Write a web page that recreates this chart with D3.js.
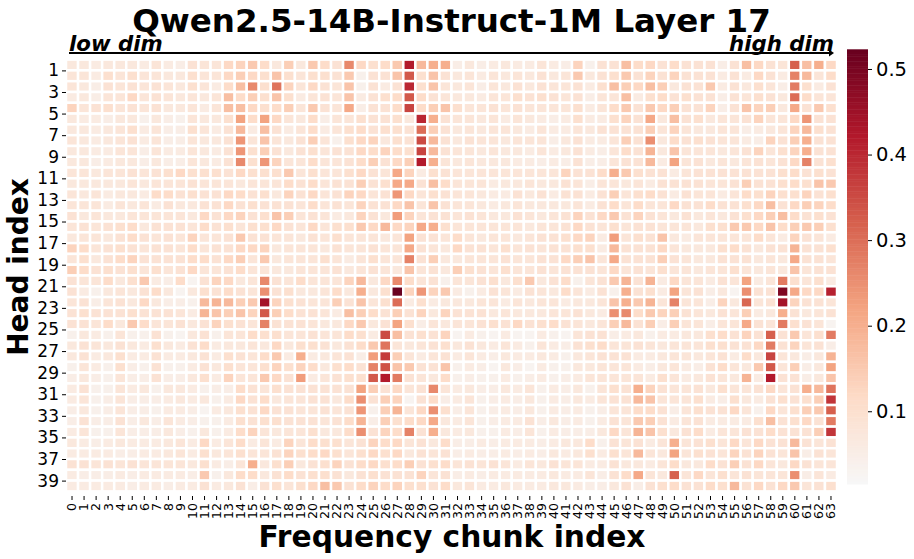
<!DOCTYPE html>
<html>
<head>
<meta charset="utf-8">
<script src="https://cdn.jsdelivr.net/npm/d3@7"></script>
<style>
  html, body { margin: 0; padding: 0; background: #fff; }
  text { font-family: "DejaVu Sans", sans-serif; fill: #000; }
</style>
</head>
<body>
<svg id="chart" width="914" height="559"></svg>
<script>
const chunks = d3.range(64);
const heads = d3.range(40);
const headTicks = d3.range(1, 40, 2);
const barTicks = [0.1, 0.2, 0.3, 0.4, 0.5];
const colorStops = ['#f7f7f7', '#fddbc7', '#f4a582', '#d6604d', '#b2182b', '#67001f'];
const valueRange = [0.015, 0.523];

// one line per head, in hundredths
const headValues = [
  [7,7,6,7,7,7,6,8,6,5,9,8,8,12,13,15,11,7,14,7,15, 11,9,26,12,10,11,15,42,18,20,20,5,7,5,6,7,6,6,8,6,5,13, 4,9,9,17,11,12,9,11,9,9,9,5,9,17,12,9,8,32,17,20,12],
  [8,8,6,10,8,10,8,8,7,7,10,8,8,12,14,12,10,16,10,8,10, 10,9,15,4,9,9,16,33,10,16,9,7,8,6,8,7,8,7,9,7,8,15, 7,9,10,15,9,13,9,13,9,9,9,6,9,6,12,9,6,27,18,8,11],
  [8,7,5,9,8,9,8,9,8,7,10,8,6,11,17,26,10,29,13,8,12, 9,8,16,4,9,6,9,40,10,16,8,7,8,5,8,7,9,7,9,8,8,9, 6,10,17,14,12,17,14,7,9,9,15,6,9,7,10,8,5,28,10,6,9],
  [6,7,5,8,8,12,8,9,8,7,8,7,8,17,11,14,10,16,10,6,8, 9,8,16,6,9,10,11,33,11,9,8,7,7,6,8,8,10,9,10,9,8,9, 5,8,8,17,6,10,11,9,10,9,9,5,9,8,10,9,7,30,11,8,8],
  [13,8,9,10,8,9,8,9,7,7,8,6,8,17,17,12,10,11,14,8,15, 9,8,21,5,9,9,11,36,11,14,16,10,8,8,9,8,9,8,8,8,8,10, 6,8,11,15,9,15,12,14,9,9,13,5,9,16,13,14,7,21,9,15,10],
  [7,6,6,5,7,7,4,7,5,4,8,7,7,10,22,11,22,12,8,7,11, 5,8,8,10,9,9,10,7,40,20,9,8,8,7,8,6,8,7,6,5,6,10, 6,6,10,13,9,21,7,17,9,10,7,8,8,9,13,8,8,12,24,9,9],
  [7,7,6,7,8,10,6,8,5,5,10,8,6,9,18,6,17,9,6,8,11, 6,8,10,11,9,10,10,9,30,14,9,7,8,7,8,8,7,6,8,6,6,8, 7,9,9,9,9,14,8,13,8,7,7,8,8,5,6,7,8,13,18,10,9],
  [8,7,6,7,8,9,6,8,5,5,8,7,7,9,24,8,16,8,7,9,14, 8,4,10,12,13,7,10,9,35,18,9,7,9,8,8,7,8,8,8,5,7,9, 6,6,8,14,9,25,7,11,9,10,9,8,8,6,5,13,9,14,20,9,9],
  [7,7,6,6,8,8,5,8,6,6,8,7,6,9,24,10,14,9,7,9,10, 8,9,9,12,11,13,11,10,36,18,9,8,8,7,8,7,7,6,8,6,7,9, 6,5,8,11,9,19,7,16,8,8,8,7,8,9,13,8,10,13,20,9,9],
  [7,7,5,6,7,7,5,7,5,5,8,7,6,9,26,10,24,13,8,8,11, 8,8,9,11,14,9,12,14,42,20,8,7,8,7,7,7,6,6,5,6,5,9, 5,5,8,9,9,18,6,22,8,9,7,8,7,8,9,8,9,12,27,9,10],
  [8,8,7,8,8,9,8,9,10,12,10,10,10,9,12,10,10,10,15,8,10, 8,8,10,12,9,8,21,13,6,10,9,8,8,8,8,8,8,8,8,8,13,9, 9,11,20,15,10,9,9,6,8,9,9,9,9,9,9,9,10,11,9,10,9],
  [7,7,7,7,7,8,7,8,8,8,9,8,8,8,7,8,8,8,11,9,11, 8,9,9,14,9,10,21,21,9,17,11,8,8,8,6,7,7,8,7,7,9,8, 5,8,8,7,8,6,9,9,9,9,8,8,9,14,9,9,10,11,10,16,15],
  [8,7,8,6,7,7,6,11,11,9,10,9,9,12,11,9,10,7,13,9,12, 8,9,13,12,8,9,24,12,8,10,9,8,8,7,6,6,9,7,9,6,9,9, 6,9,14,8,10,11,9,6,9,8,8,6,8,11,10,13,10,10,13,9,10],
  [8,8,8,6,8,7,8,6,9,7,7,9,9,12,9,10,9,9,9,8,11, 8,9,8,13,9,9,12,16,8,16,9,8,8,7,6,7,8,7,7,7,7,8, 6,9,11,8,11,8,8,12,9,9,11,9,9,10,12,17,9,12,14,13,11],
  [9,7,8,7,7,8,8,8,8,8,7,12,9,12,13,9,10,16,14,8,9, 8,6,7,13,9,7,23,13,8,9,9,8,9,8,7,7,9,8,7,8,9,13, 9,12,15,9,13,9,8,7,9,7,8,7,9,10,12,14,17,11,9,10,9],
  [8,9,8,9,10,11,7,9,9,9,8,11,9,10,8,10,10,12,9,8,12, 8,10,10,15,12,18,12,13,21,20,10,8,8,8,8,8,8,7,8,8,9,12, 9,8,10,8,9,9,8,8,8,7,10,10,15,15,12,16,11,14,15,14,10],
  [7,8,8,7,9,11,9,8,9,8,13,8,8,9,15,9,9,8,8,7,9, 8,10,8,8,8,7,8,22,9,9,8,11,8,7,8,8,7,8,9,9,10,12, 13,6,23,8,10,9,16,7,6,8,8,8,8,8,11,8,6,13,9,8,6],
  [13,11,8,9,10,9,8,9,9,8,11,8,9,9,12,12,13,7,8,8,8, 7,9,8,8,9,8,8,21,9,8,7,12,9,9,8,10,8,9,8,9,9,10, 10,6,18,9,9,9,12,8,7,7,7,10,11,9,7,9,9,19,9,9,10],
  [8,10,7,9,11,13,9,9,9,9,11,11,9,12,14,8,15,7,8,8,8, 10,8,6,8,10,8,8,27,9,14,7,7,8,8,8,9,8,8,9,9,12,14, 16,8,21,9,9,9,14,9,8,7,7,9,9,9,7,8,7,21,9,9,8],
  [14,11,9,10,9,10,8,10,8,9,12,8,8,9,11,8,8,7,7,8,8, 8,9,7,8,9,8,7,16,8,9,7,14,10,9,8,10,8,8,9,8,9,9, 9,8,12,8,9,8,10,8,8,7,8,8,10,8,7,8,7,16,8,9,9],
  [9,8,8,11,7,10,15,6,5,11,3,9,13,12,7,8,26,9,8,11,8, 8,8,13,18,7,12,26,11,8,9,4,8,8,9,10,7,10,15,7,9,11,4, 8,9,15,19,9,19,6,12,8,8,6,9,8,22,6,8,28,10,8,10,6],
  [9,6,4,7,8,7,9,11,7,3,7,10,9,11,9,8,25,9,10,7,7, 8,11,7,20,7,10,52,13,24,13,15,6,4,6,9,8,6,9,8,7,11,8, 6,9,4,20,9,10,6,22,8,9,5,7,3,25,9,9,49,21,12,12,41],
  [8,9,5,8,9,7,12,7,5,5,4,18,19,18,14,15,44,13,10,9,8, 8,14,9,16,8,10,30,6,10,6,7,7,7,8,8,6,8,7,8,8,6,7, 7,8,16,20,15,19,8,27,8,8,5,13,7,31,8,9,44,13,9,9,8],
  [9,10,9,9,9,10,9,9,9,8,6,19,16,14,16,13,33,14,11,9,9, 8,6,17,14,11,9,14,9,13,7,13,9,9,9,7,8,7,7,7,8,8,9, 7,6,25,26,11,15,13,14,9,8,7,9,8,14,6,7,20,9,7,8,9],
  [9,9,8,11,7,15,11,8,8,9,7,9,13,10,9,8,27,9,9,9,8, 7,7,12,15,7,9,22,10,5,8,7,8,8,9,10,9,12,9,10,11,9,8, 7,8,14,18,9,14,5,14,8,8,5,8,8,21,9,8,28,10,9,8,3],
  [4,7,6,4,8,4,4,9,4,3,7,9,4,8,8,11,10,10,8,8,9, 8,8,11,10,6,35,17,9,10,9,13,3,6,4,3,6,3,3,6,4,3,8, 9,9,5,6,7,4,6,6,7,7,10,11,9,13,9,32,9,15,8,10,28],
  [7,9,8,7,9,7,6,10,7,6,9,11,6,7,7,8,7,12,7,10,10, 9,7,9,11,15,29,8,7,8,9,10,7,9,7,6,8,6,4,8,6,5,9, 10,11,8,8,9,8,7,8,8,8,10,10,9,9,12,28,9,13,8,9,5],
  [7,9,6,7,10,6,6,9,6,6,7,9,6,10,9,8,11,15,6,20,6, 7,8,9,5,23,37,14,8,6,8,9,6,8,6,5,7,6,6,7,6,4,7, 8,9,9,9,6,6,7,8,8,7,8,9,6,11,7,36,8,7,5,7,19],
  [4,8,6,4,10,5,4,9,4,4,6,9,7,10,8,8,10,13,10,13,11, 7,10,11,9,27,34,16,15,9,9,16,4,6,5,3,7,5,3,6,4,4,7, 7,8,8,8,6,5,7,8,6,5,9,11,8,7,15,33,8,14,5,7,22],
  [5,7,5,4,8,5,5,9,5,5,7,10,6,13,8,8,15,12,9,23,6, 8,9,10,10,33,42,28,9,8,7,11,4,5,4,4,6,4,5,6,4,5,6, 8,8,8,8,8,6,10,8,6,7,9,8,7,19,6,42,9,9,5,7,16],
  [6,9,4,4,8,6,7,4,7,7,6,4,5,5,11,9,8,10,9,9,9, 9,9,9,22,14,9,12,8,9,26,8,6,7,5,5,7,6,8,4,6,5,7, 4,8,10,9,20,13,9,8,8,9,7,10,8,8,9,12,8,9,20,18,29],
  [6,8,4,5,8,5,5,5,6,7,6,7,4,6,12,9,11,7,8,8,9, 9,7,11,25,9,14,13,3,9,11,5,6,8,4,5,6,5,7,4,6,5,7, 6,8,9,9,18,16,8,8,8,10,6,5,10,7,6,9,10,9,10,14,38],
  [5,7,4,5,8,5,5,4,6,6,5,3,6,7,10,9,12,9,9,8,8, 9,8,9,24,4,14,19,8,12,25,10,5,8,4,5,6,5,7,4,6,5,6, 4,5,8,8,11,11,9,5,8,10,9,9,12,8,4,12,8,10,14,15,32],
  [5,9,5,5,9,5,7,5,8,6,5,4,4,6,10,9,10,10,9,9,9, 8,9,11,19,5,14,10,11,12,21,7,6,8,4,5,6,6,9,5,7,5,6, 4,6,9,8,15,14,9,6,8,9,6,6,6,6,10,17,9,10,12,9,28],
  [6,8,4,4,8,5,5,5,7,5,4,7,4,6,11,13,8,7,8,8,10, 7,7,11,25,9,13,11,27,9,20,7,6,7,4,4,6,5,8,4,6,5,5, 5,7,12,8,19,16,10,7,9,11,6,8,8,9,9,11,9,9,9,14,38],
  [7,6,5,6,7,6,6,6,7,8,6,12,6,8,11,6,8,6,13,8,11, 10,10,8,9,13,11,12,8,9,7,11,5,5,6,5,6,6,6,5,6,7,7, 11,4,9,8,9,6,8,20,8,9,10,8,12,8,12,9,9,18,9,8,9],
  [6,6,6,6,5,5,6,6,7,8,6,10,7,8,10,8,8,9,13,10,11, 12,10,8,10,12,10,12,7,9,8,9,5,6,5,5,6,5,6,5,7,6,7, 10,6,10,8,18,8,7,22,8,10,9,8,13,9,13,9,8,16,5,9,8],
  [9,9,8,9,8,9,8,8,8,8,7,10,6,5,8,20,7,10,14,7,9, 10,13,9,11,12,10,11,14,9,10,11,8,9,8,9,8,6,8,7,9,8,8, 6,6,9,7,7,6,8,11,7,7,11,9,14,9,12,8,7,12,9,8,8],
  [6,5,5,5,6,5,6,6,6,6,5,15,4,7,11,11,7,9,11,9,10, 10,9,7,9,10,9,9,9,13,8,9,5,6,5,6,6,6,6,6,7,6,6, 8,5,9,11,21,8,7,32,8,12,8,10,8,9,8,8,8,25,5,8,6],
  [6,6,6,6,6,5,6,6,5,6,6,9,6,7,9,5,9,10,8,10,12, 17,15,9,11,13,11,13,10,10,9,11,7,8,6,6,7,6,6,6,7,7,6, 5,5,7,9,5,9,10,11,9,9,11,10,18,9,12,9,12,15,8,9,10]
];

const svg = d3.select('#chart');

const plot = { left: 66, right: 837, top: 59.6, bottom: 491.4 };
const bar = { left: 847, right: 868, top: 49.3, bottom: 484 };

const x = d3.scaleBand().domain(chunks).range([plot.left, plot.right]);
const y = d3.scaleLinear().domain([0, heads.length]).range([plot.top, plot.bottom]);

const color = d3.scaleLinear()
  .domain(colorStops.map((c, i) => valueRange[0] + (valueRange[1] - valueRange[0]) * i / (colorStops.length - 1)))
  .range(colorStops);

// cells, white outline gives the gaps
svg.append('g')
  .selectAll('g')
  .data(headValues)
  .join('g')
  .selectAll('rect')
  .data((row, h) => row.map((v, c) => ({ h, c, v: v / 100 })))
  .join('rect')
  .attr('x', d => x(d.c))
  .attr('y', d => y(d.h))
  .attr('width', x.bandwidth())
  .attr('height', y(1) - y(0))
  .attr('fill', d => color(d.v))
  .attr('stroke', '#fff')
  .attr('stroke-width', 2.5);

// axes
const xAxis = svg.append('g')
  .attr('transform', `translate(0,496)`)
  .call(d3.axisBottom(x).tickSize(4).tickPadding(3));
xAxis.select('.domain').remove();
xAxis.selectAll('text')
  .attr('font-size', 12.5)
  .attr('text-anchor', 'end')
  .attr('transform', 'rotate(-90)')
  .attr('x', -7)
  .attr('y', 0)
  .attr('dy', '0.35em');

const yAxis = svg.append('g')
  .attr('transform', `translate(${plot.left},0)`)
  .call(d3.axisLeft(y).tickValues(headTicks).tickFormat(d3.format('d')).tickSize(4).tickPadding(3));
yAxis.select('.domain').remove();
yAxis.selectAll('text').attr('font-size', 17);

// colorbar
const barScale = d3.scaleLinear().domain(valueRange).range([bar.bottom, bar.top]);
const barSteps = d3.range(valueRange[0], valueRange[1], 0.002);
svg.append('g')
  .selectAll('rect')
  .data(barSteps)
  .join('rect')
  .attr('x', bar.left)
  .attr('width', bar.right - bar.left)
  .attr('y', d => barScale(d + 0.002))
  .attr('height', d => barScale(d) - barScale(d + 0.002) + 0.5)
  .attr('fill', d => color(d));

const barAxis = svg.append('g')
  .attr('transform', `translate(${bar.right},0)`)
  .call(d3.axisRight(barScale).tickValues(barTicks).tickFormat(d3.format('.1f')).tickSize(4).tickPadding(4));
barAxis.select('.domain').remove();
barAxis.selectAll('text').attr('font-size', 19.5);

// titles
svg.append('text')
  .attr('x', 451.5)
  .attr('y', 32)
  .attr('text-anchor', 'middle')
  .attr('font-size', 32.5)
  .attr('font-weight', 'bold')
  .text('Qwen2.5-14B-Instruct-1M Layer 17');

svg.append('text')
  .attr('x', 452)
  .attr('y', 547)
  .attr('text-anchor', 'middle')
  .attr('font-size', 29.7)
  .attr('font-weight', 'bold')
  .text('Frequency chunk index');

svg.append('text')
  .attr('transform', 'translate(28,267) rotate(-90)')
  .attr('text-anchor', 'middle')
  .attr('font-size', 28)
  .attr('font-weight', 'bold')
  .text('Head index');

// low dim -> high dim arrow
svg.append('line')
  .attr('x1', 69)
  .attr('x2', 829)
  .attr('y1', 53)
  .attr('y2', 53)
  .attr('stroke', '#000')
  .attr('stroke-width', 2);
svg.append('path')
  .attr('d', d3.line()([[829, 49.5], [834, 53], [829, 56.5]]))
  .attr('fill', '#000');

svg.append('text')
  .attr('x', 69)
  .attr('y', 51)
  .attr('font-size', 21.3)
  .attr('font-weight', 'bold')
  .attr('font-style', 'italic')
  .text('low dim');

svg.append('text')
  .attr('x', 834)
  .attr('y', 51)
  .attr('text-anchor', 'end')
  .attr('font-size', 21.3)
  .attr('font-weight', 'bold')
  .attr('font-style', 'italic')
  .text('high dim');
</script>
</body>
</html>
